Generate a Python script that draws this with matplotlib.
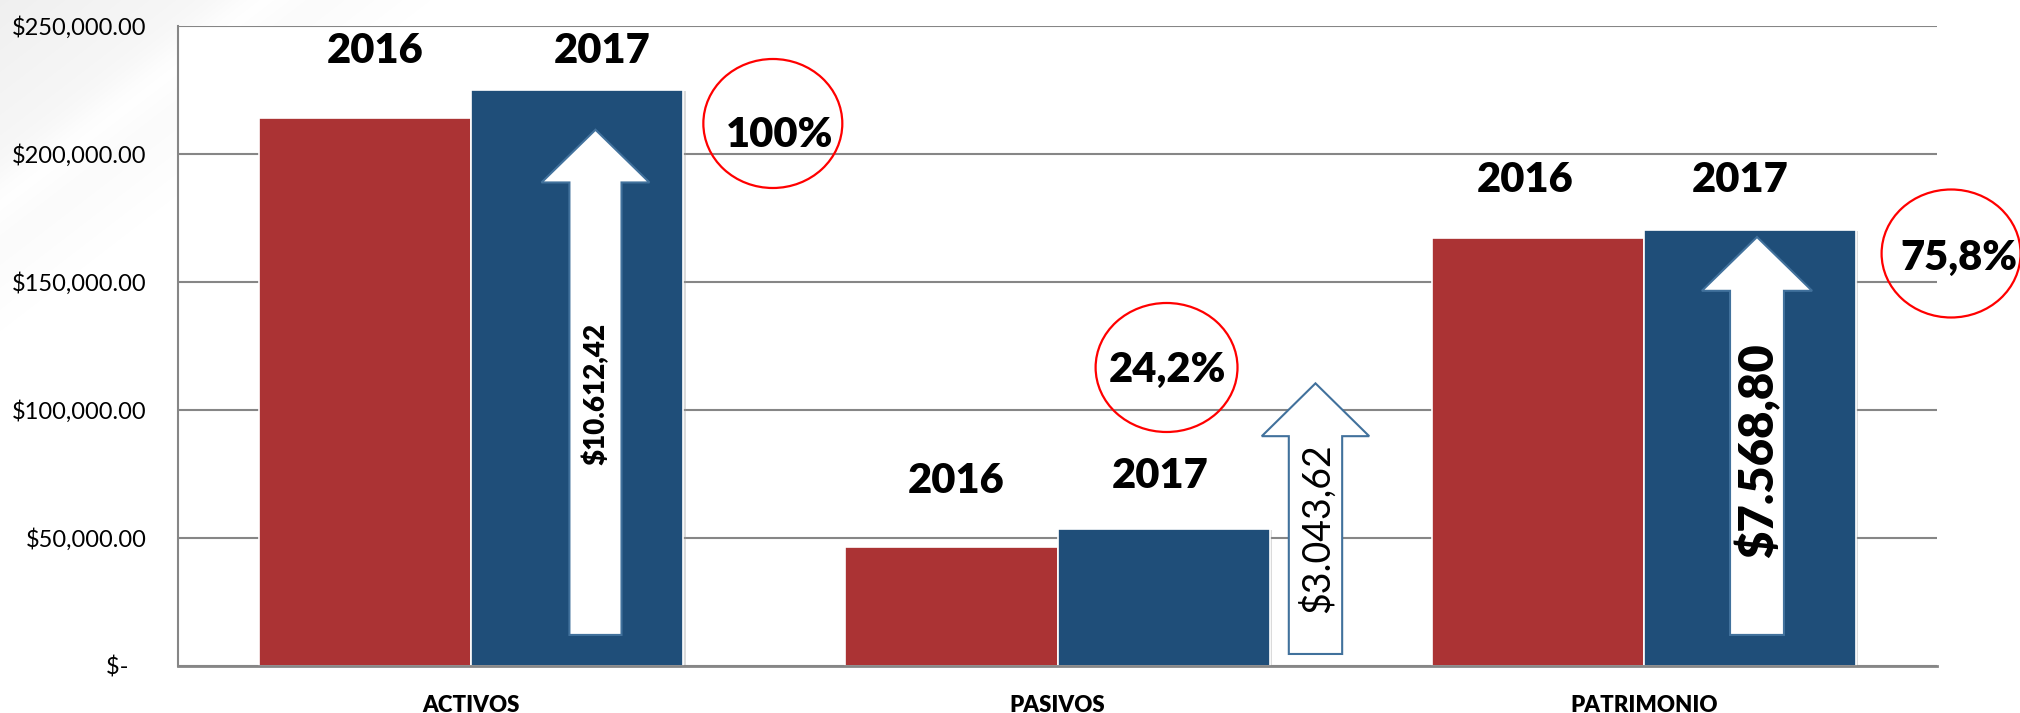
import numpy as np
import matplotlib
matplotlib.use("Agg")
import matplotlib.pyplot as plt
from matplotlib.patches import Polygon, Ellipse
from matplotlib import patheffects as pe

# ---------------- data ----------------
categories = ["ACTIVOS", "PASIVOS", "PATRIMONIO"]
years = ["2016", "2017"]
values_2016 = [213900, 46360, 167080]
values_2017 = [225000, 53400, 170120]
change_labels = ["$10.612,42", "$3.043,62", "$7.568,80"]
share_labels = ["100%", "24,2%", "75,8%"]
y_ticks = [0, 50000, 100000, 150000, 200000, 250000]
y_tick_labels = ["$-   ", "$50,000.00", "$100,000.00", "$150,000.00",
                 "$200,000.00", "$250,000.00"]

# ---------------- style ----------------
RED = "#AB3334"
BLUE = "#1F4E79"
ARROW_EDGE = "#41719C"
GRID = "#868686"
plt.rcParams['font.family'] = ['Lato', 'DejaVu Sans']

W, H = 2020, 713
fig = plt.figure(figsize=(W / 100, H / 100), dpi=100)
fig.patch.set_facecolor("white")

# faint grey corner shading of the slide background
bg = fig.add_axes([0, 0, 1, 1], zorder=-10)
yy, xx = np.mgrid[0:H, 0:W]
d = xx + 1.3 * yy
shade = 1 - 0.06 * np.clip(1 - d / 430, 0, 1)
stripe = 0.02 * np.exp(-((d - 260) / 40) ** 2)
g = np.clip(shade + stripe, 0, 1)
bg.imshow(np.dstack([g, g, g]), extent=[0, W, H, 0], aspect='auto')
bg.axis('off')

ax = fig.add_axes([178 / W, 1 - 665.5 / H, (1937 - 178) / W, (665.5 - 25.5) / H])
ax.set_facecolor("white")

x = np.arange(len(categories))
bw = 0.362
shadow = [pe.SimplePatchShadow(offset=(1.5, -1.0), shadow_rgbFace='#999999', alpha=0.35), pe.Normal()]
b1 = ax.bar(x - bw / 2, values_2016, bw, color=RED, edgecolor='white', linewidth=1.2, zorder=2)
b2 = ax.bar(x + bw / 2, values_2017, bw, color=BLUE, edgecolor='white', linewidth=1.2, zorder=2)
for b in list(b1) + list(b2):
    b.set_path_effects(shadow)

ax.set_xlim(-0.5, 2.5)
ax.set_ylim(0, 250000)
ax.set_yticks(y_ticks, y_tick_labels)
ax.set_xticks(x, categories)
ax.yaxis.grid(True, color=GRID, linewidth=1.5)
ax.set_axisbelow(True)
for s in ["top", "right"]:
    ax.spines[s].set_visible(False)
ax.spines["left"].set_color(GRID)
ax.spines["left"].set_linewidth(1.5)
ax.spines["bottom"].set_color(GRID)
ax.spines["bottom"].set_linewidth(2.0)
ax.tick_params(axis='y', length=0, pad=22.5, labelsize=17, labelcolor='black')
ax.tick_params(axis='x', length=0, pad=21, labelsize=16, labelcolor='black')
for t in ax.get_xticklabels():
    t.set_fontweight('heavy')

# ---------------- year labels ----------------
year_pos = [(-0.163, 235230), (0.2227, 235230),
            (0.827, 67380), (1.175, 69220),
            (1.797, 184770), (2.165, 184770)]
for i, (px, py) in enumerate(year_pos):
    ax.text(px, py, years[i % 2], ha='center', va='baseline', fontsize=30,
            fontweight='heavy', color='black', zorder=6)

# ---------------- arrows ----------------
def up_arrow(xc, y0, y_head, y_tip, half_shaft, half_head):
    pts = [(xc - half_shaft, y0), (xc + half_shaft, y0), (xc + half_shaft, y_head),
           (xc + half_head, y_head), (xc, y_tip), (xc - half_head, y_head),
           (xc - half_shaft, y_head)]
    ax.add_patch(Polygon(pts, closed=True, facecolor='white', edgecolor=ARROW_EDGE,
                         linewidth=1.5, zorder=4, clip_on=False))

up_arrow(0.212, 11940, 188690, 209280, 0.0444, 0.092)
up_arrow(1.440, 4500, 89580, 110220, 0.0455, 0.0916)
up_arrow(2.193, 11940, 146360, 167380, 0.046, 0.094)

ax.text(0.212, 106100, change_labels[0], rotation=90, ha='center', va='center',
        fontsize=20, fontweight='heavy', color='black', zorder=5)
ax.text(1.443, 53830, change_labels[1], rotation=90, ha='center', va='center',
        fontsize=27, fontweight='normal', color='black', zorder=5)
ax.text(2.195, 84070, change_labels[2], rotation=90, ha='center', va='center',
        fontsize=34, fontweight='heavy', color='black', zorder=5)

# ---------------- circled shares ----------------
ell = [(0.5145, 211720, 0.237, 50390), (1.186, 116410, 0.242, 50390), (2.524, 160940, 0.237, 50000)]
for (ex, ey, ew, eh) in ell:
    ax.add_patch(Ellipse((ex, ey), ew, eh, facecolor='none', edgecolor='#FF0000',
                         linewidth=1.6, zorder=6, clip_on=False))
share_pos = [(0.526, 202540), (1.188, 110860), (2.538, 154490)]
for lab, (sx, sy) in zip(share_labels, share_pos):
    ax.text(sx, sy, lab, ha='center', va='baseline', fontsize=30, fontweight='heavy',
            color='black', zorder=7, clip_on=False)

fig.savefig("out.png", dpi=100)
